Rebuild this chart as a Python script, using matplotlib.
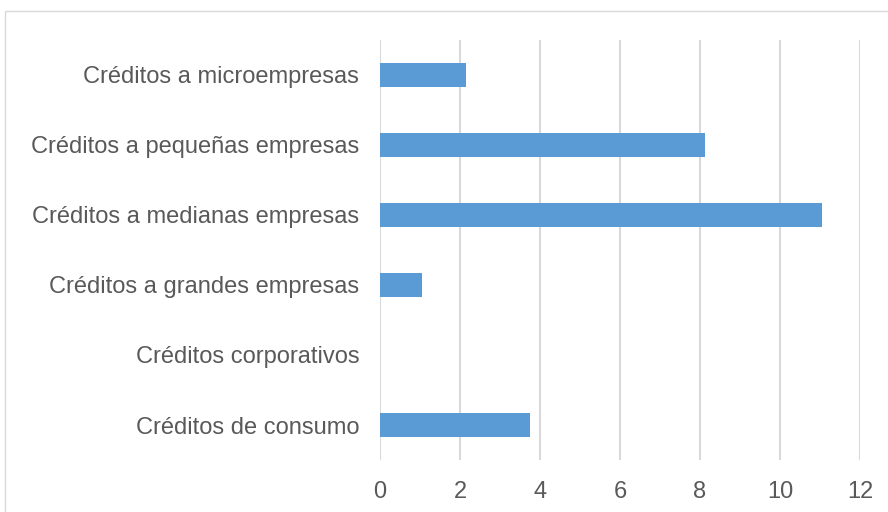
import matplotlib.pyplot as plt
from matplotlib.patches import Rectangle

# Datos
categorias = [
    "Créditos de consumo",
    "Créditos corporativos",
    "Créditos a grandes empresas",
    "Créditos a medianas empresas",
    "Créditos a pequeñas empresas",
    "Créditos a microempresas",
]
valores = [3.75, 0, 1.05, 11.05, 8.13, 2.15]
ticks_x = [0, 2, 4, 6, 8, 10, 12]

plt.rcParams['font.family'] = ['Liberation Sans', 'DejaVu Sans']

fig = plt.figure(figsize=(8.88, 5.12), dpi=100)
ax = fig.add_axes([380 / 888, 1 - 460 / 512, 480 / 888, 420 / 512])

ax.barh(range(len(categorias)), valores, height=0.34, color='#5b9bd5')

ax.set_xlim(0, 12)
ax.set_ylim(-0.5, len(categorias) - 0.5)
ax.set_xticks(ticks_x)
ax.set_yticks(range(len(categorias)))
ax.set_yticklabels(categorias)
ax.tick_params(axis='both', length=0, labelsize=17, labelcolor='#595959')
ax.tick_params(axis='y', pad=15)
ax.tick_params(axis='x', pad=15)

ax.grid(axis='x', color='#d9d9d9', linewidth=1.5)
ax.set_axisbelow(True)
for s in ax.spines.values():
    s.set_visible(False)

# Marco del gráfico
fig.patches.append(Rectangle((5 / 888, -0.1), 1.2, 1 - 11 / 512 + 0.1,
                             transform=fig.transFigure, fill=False,
                             edgecolor='#d9d9d9', linewidth=1))

fig.savefig("out.png", dpi=100)
